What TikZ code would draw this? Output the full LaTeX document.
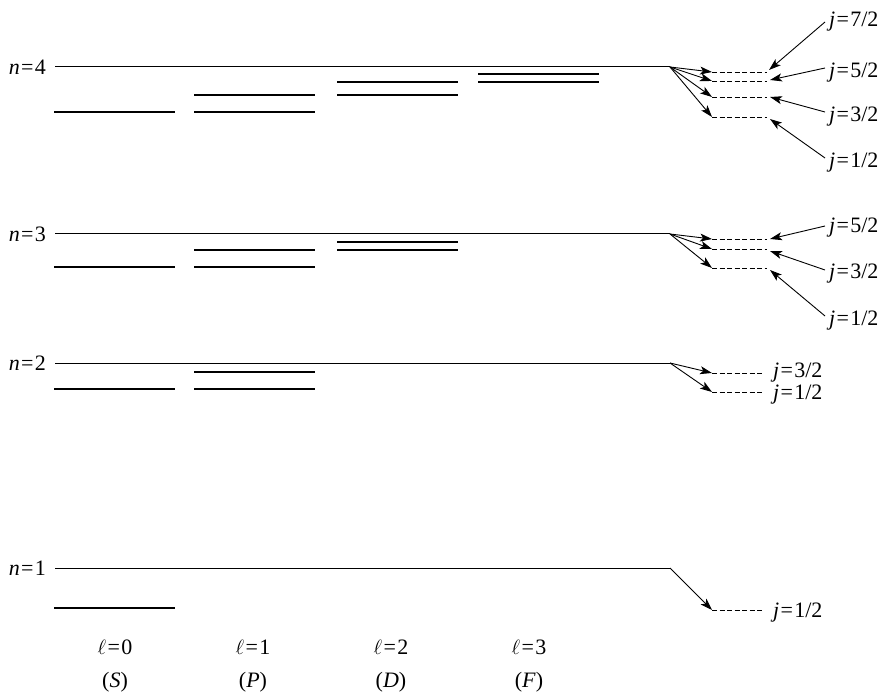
\documentclass[tikz,border=0pt]{standalone}
\usepackage{fontspec}
\setmainfont{Liberation Serif}
\usetikzlibrary{arrows.meta}
\tikzset{
  mainline/.style={line width=1pt},
  level/.style={line width=1.8pt},
  sublevel/.style={line width=0.8pt, dash pattern=on 5pt off 2.5pt},
  splitarrow/.style={line width=0.9pt, -{Stealth[length=12pt,width=8pt,inset=3pt]}},
  lbl/.style={font=\fontsize{22}{25}\selectfont, inner sep=0pt},
}
\newcommand{\jlab}[1]{\textit{j}\kern1.3pt=\kern1.3pt#1}
\newcommand{\nlab}[1]{\textit{n}\kern1.3pt=\kern1.3pt#1}
\begin{document}
\begin{tikzpicture}[x=1pt,y=-1pt]
\useasboundingbox (0,0) rectangle (888,700);
% main levels
\foreach \n/\y in {4/67,3/234,2/363,1/568}{
  \coordinate (m\n L) at (55,\y);
  \coordinate (m\n R) at (670,\y);
  \draw[mainline] (m\n L) -- (m\n R);
  \node[lbl, anchor=east] (nl\n) at (46,\y) {\nlab{\n}};
}
% fine-structure levels
\foreach \x/\y [count=\i] in {54/112,194/95,194/112,337/82,337/95,478/74,478/82,
                              54/267,194/250,194/267,337/242,337/250,
                              54/389,194/372,194/389,
                              54/608}{
  \coordinate (l\i a) at (\x,\y);
  \coordinate (l\i b) at (\x+121,\y);
  \draw[level] (l\i a) -- (l\i b);
}
% dashed split levels and arrows
\foreach \n/\y/\e/\k in {4/72/767/a,4/81/767/b,4/97/767/c,4/117/767/d,
                         3/239/767/a,3/249/767/b,3/268/767/c,
                         2/373/762/a,2/392/762/b,
                         1/610/762/a}{
  \coordinate (d\n\k L) at (712,\y);
  \coordinate (d\n\k R) at (\e,\y);
  \draw[sublevel] (d\n\k L) -- (d\n\k R);
  \draw[splitarrow] (m\n R) -- (d\n\k L);
}
% labels with arrows, n=4
\node[lbl, anchor=base west] (j47) at (829,27) {\jlab{7/2}};
\node[lbl, anchor=base west] (j45) at (829,78) {\jlab{5/2}};
\node[lbl, anchor=base west] (j43) at (829,122) {\jlab{3/2}};
\node[lbl, anchor=base west] (j41) at (829,168) {\jlab{1/2}};
\coordinate (s47) at (825,22);
\coordinate (s45) at (825,68);
\coordinate (s43) at (825,112);
\coordinate (s41) at (825,158);
\coordinate (t47) at (769,70);
\coordinate (t45) at (770,80);
\coordinate (t43) at (770,97);
\coordinate (t41) at (770,119);
\foreach \k in {47,45,43,41}{\draw[splitarrow] (s\k) -- (t\k);}
% n=3
\node[lbl, anchor=base west] (j35) at (829,233) {\jlab{5/2}};
\node[lbl, anchor=base west] (j33) at (829,279) {\jlab{3/2}};
\node[lbl, anchor=base west] (j31) at (829,326) {\jlab{1/2}};
\coordinate (s35) at (825,226);
\coordinate (s33) at (825,270);
\coordinate (s31) at (825,316);
\coordinate (t35) at (770,239);
\coordinate (t33) at (770,251);
\coordinate (t31) at (770,270);
\foreach \k in {35,33,31}{\draw[splitarrow] (s\k) -- (t\k);}
% n=2, n=1
\node[lbl, anchor=base west] (j23) at (773,377) {\jlab{3/2}};
\node[lbl, anchor=base west] (j21) at (773,399) {\jlab{1/2}};
\node[lbl, anchor=base west] (j11) at (773,617) {\jlab{1/2}};
% bottom labels
\foreach \x/\l/\s [count=\i] in {115/0/S,253/1/P,391/2/D,529/3/F}{
  \node[lbl, anchor=base] (ell\i) at (\x,654) {$\ell$\kern1.3pt=\kern1.3pt\l};
  \node[lbl, anchor=base] (sym\i) at (\x,687) {(\textit{\s})};
}
\end{tikzpicture}
\end{document}
